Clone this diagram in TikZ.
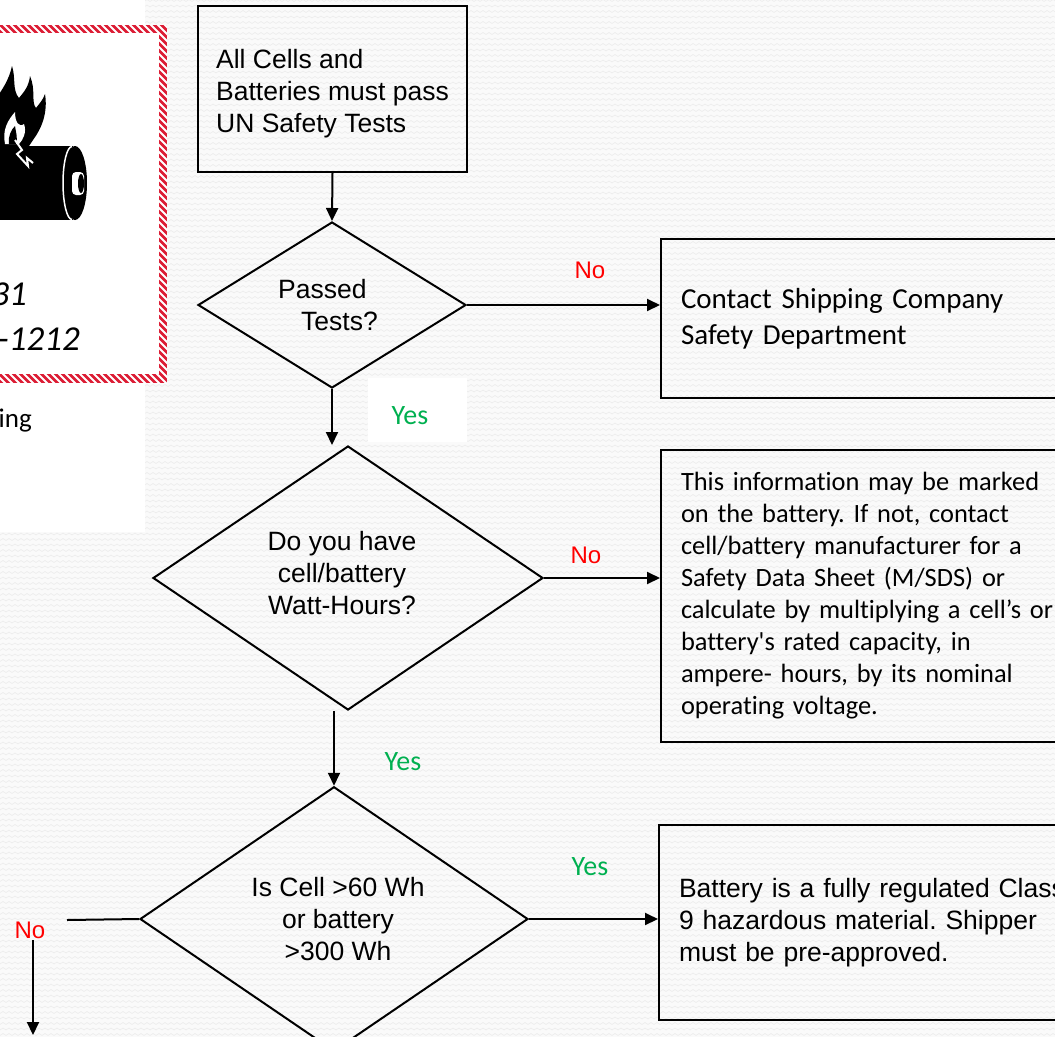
\documentclass[tikz,border=0pt]{standalone}
\usepackage{fontspec}
\setmainfont{Liberation Sans}
\newfontfamily\calibrifont{Carlito}[Ligatures=NoCommon]
\usetikzlibrary{shapes.geometric,arrows.meta,patterns}

\definecolor{bgcol}{RGB}{250,250,250}
\definecolor{wavecol}{RGB}{236,236,236}
\definecolor{nored}{RGB}{255,0,0}
\definecolor{yesgreen}{RGB}{0,176,80}
\definecolor{labelred}{RGB}{220,28,52}

\pgfdeclarepatternformonly{wavebg}{\pgfpoint{-1bp}{-1bp}}{\pgfpoint{7bp}{7bp}}{\pgfpoint{6bp}{5.5bp}}{
  \pgfsetlinewidth{0.6bp}
  \pgfpathmoveto{\pgfpoint{0bp}{1.5bp}}
  \pgfpathlineto{\pgfpoint{3bp}{3.5bp}}
  \pgfpathlineto{\pgfpoint{6bp}{1.5bp}}
  \pgfusepath{stroke}
}

\newcommand{\arialtext}{\fontsize{26.5bp}{32bp}\selectfont}
\newcommand{\calibritext}{\calibrifont\fontsize{26.4bp}{32bp}\selectfont}
\newcommand{\calibribig}{\calibrifont\fontsize{29bp}{36bp}\selectfont}
\newcommand{\padR}{\rule{12bp}{0pt}}
\newcommand{\padL}{\rule{8bp}{0pt}}

\begin{document}
\frenchspacing
\begin{tikzpicture}[x=1bp,y=-1bp,
  every node/.style={inner sep=0pt},
  flowbox/.style={draw=black, line width=2bp, rectangle, align=left},
  decision/.style={draw=black, line width=2bp, diamond, inner sep=0pt, align=center, font=\arialtext},
  arrow/.style={-{Triangle[length=13bp,width=12bp]}, line width=2bp},
  plainline/.style={line width=2bp},
  nolbl/.style={text=nored, font=\fontsize{24bp}{28bp}\selectfont},
  yeslbl/.style={text=yesgreen, font=\calibrifont\fontsize{28bp}{32bp}\selectfont},
  labeltext/.style={font=\calibrifont\itshape\fontsize{35bp}{40bp}\selectfont, anchor=base east}
]
\useasboundingbox (0,0) rectangle (1055,1037);
\clip (0,0) rectangle (1055,1037);

% background with faint wavy texture
\fill[bgcol] (0,0) rectangle (1055,1037);
\fill[pattern=wavebg, pattern color=wavecol] (0,0) rectangle (1055,1037);

% left white panel with the hazard label
\fill[white] (0,0) rectangle (145,532);
\fill[labelred] (-20,25) rectangle (167,383);
\begin{scope}
  \clip (-20,25) rectangle (167,383);
  \foreach \i in {-420,-413,...,190} \draw[white, line width=1.9bp] (\i,0) -- ++(420,420);
\end{scope}
\fill[white] (-20,33) rectangle (159,374);

% flames
\fill[black] (-5,146) -- (-5,100)
  .. controls (2,90) and (9,80) .. (12,66)
  .. controls (16,78) and (12,90) .. (19,98)
  .. controls (24,92) and (29,86) .. (30,76)
  .. controls (36,90) and (31,102) .. (36,108)
  .. controls (39,104) and (43,100) .. (45,94)
  .. controls (48,112) and (42,128) .. (33,140)
  -- (29,146) -- cycle;
\fill[white] (5,144) .. controls (2,130) and (8,120) .. (15,112)
  .. controls (15,122) and (19,128) .. (24,124)
  .. controls (27,132) and (23,140) .. (19,144) -- cycle;
\fill[black] (9,144) .. controls (8,136) and (11,130) .. (15,126)
  .. controls (16,133) and (18,138) .. (16,144) -- cycle;
% battery
\fill[black] (-10,146) rectangle (73,220);
\fill[black] (75,183) ellipse [x radius=12, y radius=37];
\draw[white, line width=1.5bp] (72,219.5) arc[start angle=90, end angle=270, x radius=9, y radius=36.5];
\fill[white, rounded corners=4bp] (72,172) rectangle (84,195);
\fill[black] (81,183.5) ellipse [x radius=3, y radius=9.5];
\draw[white, line width=2bp, line join=miter] (15,140) -- (22,150) -- (17,154) -- (28,166) -- (27,158) -- (33,163);

\node[labeltext] (lbl31) at (27,305) {31};
\node[labeltext] (lbltel) at (80,350) {-1212};
\node[font=\calibrifont\fontsize{27bp}{32bp}\selectfont, anchor=base east] (lbling) at (32,427) {ing};

% flow boxes
\node[flowbox, font=\arialtext, minimum width=269bp, minimum height=166bp, text height=93.3bp] (start) at (332.5,89)
  {All Cells and\\Batteries must pass\\UN Safety Tests};

\node[decision, align=left, minimum width=268bp, minimum height=166bp] (d1) at (332,305)
  {Passed\\\hspace*{23bp}Tests?\padL};

\node[decision, minimum width=390bp, minimum height=264bp, text depth=10bp] (d2) at (348,578)
  {Do you have\padR\\cell/battery\padR\\Watt-Hours?\padR};

\node[decision, minimum width=388bp, minimum height=238bp] (d3) at (334,919)
  {\padL Is Cell >60 Wh\\\padL or battery\\\padL >300 Wh};

\node[flowbox, font=\calibribig, minimum width=429bp, minimum height=159bp,
      text width=389bp, inner xsep=20bp] (contact) at (875.5,318.5)
  {Contact Shipping Company\\Safety Department};

\node[flowbox, font=\calibritext, minimum width=429bp, minimum height=292bp,
      text width=389bp, inner xsep=20bp] (info) at (875.5,596)
  {This information may be marked\\on the battery. If not, contact\\cell/battery manufacturer for a\\Safety Data Sheet (M/SDS) or\\calculate by multiplying a cell’s or\\battery's rated capacity, in\\ampere- hours, by its nominal\\operating voltage.};

\node[flowbox, font=\arialtext, minimum width=431bp, minimum height=195bp,
      text width=391bp, inner xsep=20bp] (bat) at (874.5,922.5)
  {Battery is a fully regulated Class\\9 hazardous material. Shipper\\must be pre-approved.};

% connectors
\draw[arrow] (start.south) -- (d1.north);
\draw[arrow] (d1.east) -- (contact.west |- d1.east);
\draw[arrow] (d1.south) -- (d1.south |- d2.north);
\draw[arrow] (d2.east) -- (info.west |- d2.east);
\draw[arrow] (d3.north |- d2.south) -- (d3.north);
\draw[arrow] (d3.east) -- (bat.west |- d3.east);
\coordinate (noend) at (67,920);
\draw[plainline] (d3.west) -- (noend);
\coordinate (nostart) at (33,940);
\coordinate (noarrow) at (33,1035);
\draw[arrow] (nostart) -- (noarrow);

% connector labels
\fill[white] (368,378) rectangle (467,442);
\node[yeslbl] (y1) at (410,416) {Yes};
\node[nolbl] (n1) at (590,270) {No};
\node[nolbl] (n2) at (586,555) {No};
\node[yeslbl] (y2) at (403,762) {Yes};
\node[yeslbl] (y3) at (590,867) {Yes};
\node[nolbl] (n3) at (30,930) {No};
\end{tikzpicture}
\end{document}
